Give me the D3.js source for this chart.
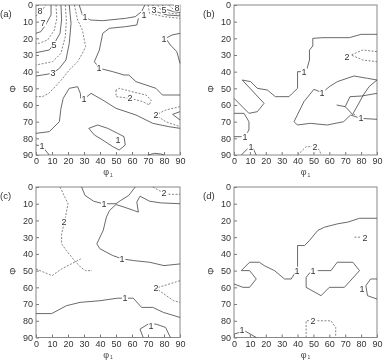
<!DOCTYPE html>
<html lang="en">
<head>
    <meta charset="UTF-8">
    <title>ODF sections</title>
    <script src="https://cdn.jsdelivr.net/npm/d3@7"></script>
    <style>
        * { margin: 0; padding: 0; }
        body { background: #fff; }
        svg { filter: grayscale(1); }
        svg text { font-family: "Liberation Sans", Arial, sans-serif; }
    </style>
</head>
<body>
    <div id="chart"></div>
    <script>
        // tick values on both axes (degrees)
        const ticks = [0, 10, 20, 30, 40, 50, 60, 70, 80, 90];

        // contour lines, points are [phi1, Phi]
        const contoursA = [
            { level: 8, pts: [[0, 6.5], [3.5, 4], [6, 0]] },
            { level: 7, pts: [[9.4, 0], [9.4, 6], [6, 12], [3, 16], [0, 17]] },
            { level: 6, pts: [[12.5, 0], [13, 8], [11.5, 15], [7.3, 21], [2, 23], [0, 23]] },
            { level: 5, pts: [[15.6, 0], [16, 9], [15, 17], [11.5, 23], [8.3, 27], [0, 28.6]] },
            { level: 4, pts: [[18.3, 0], [19, 9], [18.3, 19], [15.6, 29], [10.4, 34], [0, 36]] },
            { level: 3, pts: [[20.8, 0], [21.9, 11], [20.8, 23], [18.7, 33], [14.6, 38], [10.4, 41], [4, 42], [0, 42.6]] },
            { level: 2, pts: [[24, 0], [26, 9], [29, 15], [31, 25], [29, 29], [26, 34], [20.8, 39], [16.7, 44], [12, 49], [8, 53], [4, 55], [0, 55]] },
            { level: 1, pts: [[27, 0], [29, 6], [31, 7.5], [34, 9], [41.7, 9.4], [56, 8], [62, 7], [66, 4], [68, 0]] },
            { level: 1, pts: [[64, 8], [63, 12], [56, 13], [45.8, 14], [41.7, 17], [39.6, 27], [36.5, 34], [39.6, 38], [48, 40], [55, 42], [58, 42], [62.5, 46], [75, 50], [79, 54], [90, 54]] },
            { level: 2, pts: [[70, 0], [71, 5], [80, 7], [90, 8]] },
            { level: 3, pts: [[73, 0], [75, 4], [82, 6], [90, 6.5]] },
            { level: 4, pts: [[76, 0], [78, 3], [84, 5], [90, 5.5]] },
            { level: 5, pts: [[79, 0], [81, 2.5], [86, 4], [90, 4.5]] },
            { level: 6, pts: [[83, 0], [85, 2], [90, 3.5]] },
            { level: 7, pts: [[86, 0], [87, 1.5], [90, 2.5]] },
            { level: 8, pts: [[89, 0], [90, 1.5]] },
            { level: 1, pts: [[90, 17], [85, 18], [81, 20], [84, 24], [88, 28], [90, 35]] },
            { level: 2, pts: [[50, 51], [50, 55], [59, 56], [66.7, 58], [70.8, 60], [72, 57], [68.7, 54], [62, 52.5], [56, 51], [52, 50], [50, 51]] },
            { level: 2, pts: [[90, 61], [81, 63], [75, 66], [81, 70], [90, 73]] },
            { level: 3, pts: [[90, 64], [85.4, 65.6], [90, 69]] },
            { level: 1, pts: [[0, 77], [8.3, 76], [14.6, 70], [15.6, 62], [17, 56], [20.8, 50], [26, 49], [27.7, 53], [28, 56], [30, 56.4], [34.4, 53], [41.7, 57], [50, 62], [62.5, 66], [73, 71], [83, 73], [90, 74]] },
            { level: 1, pts: [[33, 74], [38.5, 72], [44.8, 74], [51, 77], [55, 79], [55.8, 84], [52, 87], [48, 85], [41.7, 81], [36.5, 78], [33, 74]] },
            { level: 1, pts: [[0, 84], [3.7, 84.6], [8.3, 90]] },
            { level: 1, pts: [[70, 90], [74, 89], [78, 89.4], [80, 90]] }
        ];
        const labelsA = [
            ["8", 2.5, 3.5], ["7", 4.6, 10.6], ["5", 11.5, 24], ["3", 10.4, 41], ["1", 30.8, 7.4], ["1", 67.5, 6],
            ["3", 74, 3], ["5", 80, 3], ["8", 88, 1.5], ["1", 80, 20.5], ["1", 39.6, 38], ["2", 59, 56],
            ["2", 75, 66], ["1", 30, 56.4], ["1", 51.5, 81], ["1", 3.7, 84.6]
        ];

        const contoursB = [
            { level: 1, pts: [[90, 17.6], [80, 17.6], [72.6, 19.6], [56, 19.6], [49.6, 20], [49.6, 24.6], [47.5, 27], [47.5, 33], [46, 38], [44, 40], [40, 40], [40, 50], [36.7, 53], [34.6, 55], [26, 55], [21, 51], [14.7, 50], [10.5, 46], [5.2, 45], [18.9, 59], [14.7, 64], [9.4, 65], [0, 56]] },
            { level: 1, pts: [[90, 45], [84, 44], [75.5, 42.6], [65, 46], [60, 49], [55.6, 52.6], [50.3, 50.6], [44, 58], [37.8, 70], [39.9, 72], [48, 71], [58.7, 72], [69, 70], [73.4, 66], [79.7, 68], [90, 68.6]] },
            { level: 1, pts: [[90, 45], [85, 49], [81.4, 54], [78, 60], [75, 65], [76, 66]] },
            { level: 1, pts: [[90, 53], [80.4, 54.6], [73, 55], [70, 61], [75, 66]] },
            { level: 1, pts: [[64.6, 60], [70, 61]] },
            { level: 2, pts: [[90, 28], [81, 27], [73.7, 30], [81, 33], [90, 34]] },
            { level: 1, pts: [[0, 65], [6.3, 65], [9.4, 70], [9.4, 75], [6.7, 79], [0, 79]] },
            { level: 1, pts: [[4.6, 90], [8.8, 86], [12, 86], [14, 90]] },
            { level: 2, pts: [[40, 90], [45.4, 85], [48.5, 85], [51, 85], [53.8, 87], [54.8, 90]] }
        ];
        const labelsB = [
            ["1", 44, 40], ["1", 55.6, 52.6], ["1", 79.7, 68], ["2", 71, 31], ["1", 6.7, 79], ["1", 10.5, 85.4], ["2", 51, 85.4]
        ];

        const contoursC = [
            { level: 2, pts: [[15, 0], [17, 4], [20, 10], [18, 20], [16, 28], [16, 34], [19, 38], [24, 44], [28, 48], [31, 50], [35, 50]] },
            { level: 2, pts: [[0, 49], [5, 51], [10, 53], [16, 49], [22, 46], [28, 43]] },
            { level: 1, pts: [[28.5, 0], [30.6, 5], [36, 8.5], [42, 10], [50, 10], [53, 8], [58, 5], [62, 0]] },
            { level: 1, pts: [[90, 10], [78, 9.5], [71, 8.5], [65, 5.5], [63, 9], [64, 15], [61, 14], [55, 12], [50, 10.5], [46, 14], [44, 18], [42, 26], [38, 34], [40, 37], [48, 41], [54, 43], [61, 44], [71, 45], [80, 47], [90, 46]] },
            { level: 2, pts: [[73, 0], [77.5, 2.4], [80, 3.8], [84, 4.4], [90, 4.4]] },
            { level: 2, pts: [[90, 56], [80, 59], [75, 60.5], [80, 64], [86, 68], [90, 69]] },
            { level: 1, pts: [[0, 75.7], [9.8, 75.7], [19, 71], [27.5, 69], [40, 68], [51, 66.5], [55.6, 66.5], [60.8, 66.5], [66, 72], [73, 72], [79.6, 75], [90, 78]] },
            { level: 1, pts: [[67, 90], [65, 85], [70, 82], [75, 82], [81, 84], [84, 90]] }
        ];
        const labelsC = [
            ["2", 17.5, 20.7], ["1", 42.5, 10], ["1", 54, 43], ["2", 80, 3.8], ["2", 74.8, 60.5], ["1", 55.6, 66.5], ["1", 72, 83]
        ];

        const contoursD = [
            { level: 1, pts: [[90, 18.7], [79, 18.7], [71.6, 21], [65.3, 22], [57, 24], [52.7, 26], [47.5, 32], [44.4, 35], [40, 35], [40, 48], [38, 52], [36, 55], [31.8, 55], [25.5, 50], [19, 47], [16, 45], [9.8, 45], [4.6, 50], [9.8, 50], [14, 55], [9.8, 60], [5.6, 60], [0, 58]] },
            { level: 1, pts: [[52.7, 50], [61, 50], [65, 45], [74.8, 45], [79, 50], [69.5, 60], [60, 60], [54.8, 65], [45.4, 60], [45.4, 54], [48, 51]] },
            { level: 1, pts: [[90, 55], [86, 55], [83, 59], [84, 65], [90, 67]] },
            { level: 2, pts: [[75.8, 30], [80, 30]] },
            { level: 2, pts: [[45.4, 90], [45.4, 80], [61, 80], [64, 84], [64, 90]] },
            { level: 1, pts: [[0, 88], [6.7, 86], [14, 90]] }
        ];
        const labelsD = [
            ["1", 39.8, 50], ["1", 50, 50], ["1", 80.4, 60.7], ["2", 82.5, 30.7], ["2", 49.6, 80], ["1", 5.2, 85.4]
        ];

        const panels = [
            { tag: "(a)", left: 36, top: 5, w: 144, h: 150, contours: contoursA, labels: labelsA },
            { tag: "(b)", left: 234, top: 5, w: 143, h: 150, contours: contoursB, labels: labelsB },
            { tag: "(c)", left: 36, top: 187, w: 144, h: 150.5, contours: contoursC, labels: labelsC },
            { tag: "(d)", left: 234, top: 187, w: 143, h: 150.5, contours: contoursD, labels: labelsD }
        ];

        const svg = d3.select('#chart')
            .append('svg')
            .attr('width', 383)
            .attr('height', 362);

        panels.forEach(p => {
            const x = d3.scaleLinear().domain([0, 90]).range([0, p.w]);
            const y = d3.scaleLinear().domain([0, 90]).range([0, p.h]);

            const g = svg.append('g').attr('transform', `translate(${p.left},${p.top})`);

            // axes, ticks point inward
            const xAxisG = g.append('g')
                .attr('transform', `translate(0,${p.h})`)
                .call(d3.axisBottom(x).tickValues(ticks).tickSizeInner(-3).tickSizeOuter(0).tickPadding(3));
            const yAxisG = g.append('g')
                .call(d3.axisLeft(y).tickValues(ticks).tickSizeInner(-3).tickSizeOuter(0).tickPadding(3));

            [xAxisG, yAxisG].forEach(a => {
                a.select('.domain').remove();
                a.selectAll('line').attr('stroke', '#777');
                a.selectAll('text')
                    .attr('font-size', '9px')
                    .attr('fill', '#333')
                    .style('font-family', '"Liberation Sans", Arial, sans-serif');
            });

            // frame
            g.append('rect')
                .attr('width', p.w)
                .attr('height', p.h)
                .attr('fill', 'none')
                .attr('stroke', '#888')
                .attr('stroke-width', 1);

            const line = d3.line()
                .x(d => x(d[0]))
                .y(d => y(d[1]));

            g.selectAll('.contour')
                .data(p.contours)
                .enter()
                .append('path')
                .attr('class', 'contour')
                .attr('d', d => line(d.pts))
                .attr('fill', 'none')
                .attr('stroke', d => d.level % 2 === 0 ? '#666' : '#444')
                .attr('stroke-width', 0.8)
                .attr('stroke-dasharray', d => d.level % 2 === 0 ? '2,1.5' : null);

            // white knock-out behind the contour labels, then the labels
            g.selectAll('.chalo')
                .data(p.labels)
                .enter()
                .append('rect')
                .attr('class', 'chalo')
                .attr('x', d => x(d[1]) - 3)
                .attr('y', d => y(d[2]) - 4)
                .attr('width', 6)
                .attr('height', 8)
                .attr('fill', '#fff');

            g.selectAll('.clabel')
                .data(p.labels)
                .enter()
                .append('text')
                .attr('class', 'clabel')
                .attr('x', d => Math.round(x(d[1])))
                .attr('y', d => Math.round(y(d[2])))
                .attr('dy', '0.35em')
                .attr('text-anchor', 'middle')
                .attr('font-size', '9px')
                .attr('fill', '#333')
                .text(d => d[0]);

            // panel tag
            svg.append('text')
                .attr('x', p.left - (p.left === 36 ? 36 : 31))
                .attr('y', p.top + 12)
                .attr('font-size', '9.5px')
                .attr('fill', '#333')
                .text(p.tag);

            // axis titles
            const xt = svg.append('text')
                .attr('x', p.left + p.w / 2)
                .attr('y', p.top + p.h + 20)
                .attr('text-anchor', 'middle')
                .attr('font-size', '9px')
                .attr('fill', '#444');
            xt.append('tspan').text('φ');
            xt.append('tspan').attr('font-size', '5px').attr('dy', '1.5').attr('dx', '1').text('1');

            svg.append('text')
                .attr('transform', `translate(${p.left - 20},${p.top + p.h * 0.56}) rotate(-90)`)
                .attr('text-anchor', 'middle')
                .attr('font-size', '9px')
                .attr('fill', '#444')
                .text('Φ');
        });
    </script>
</body>
</html>
